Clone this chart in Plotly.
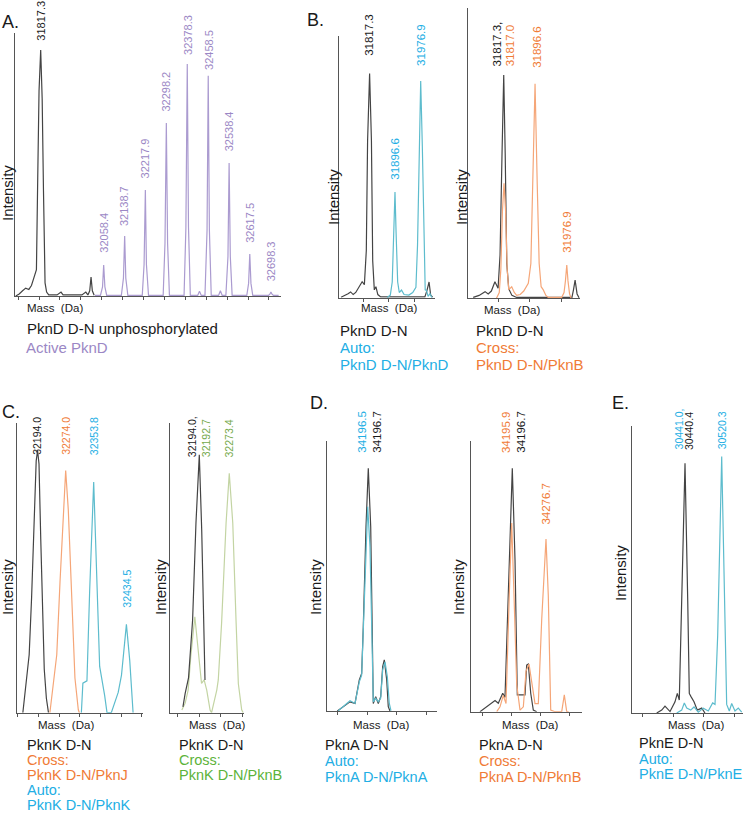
import plotly.graph_objects as go

W, H = 745, 819
FONT = "Liberation Sans, Arial, sans-serif"

INK = "#1a1a1a"
AXIS = "#555555"
GREY_LINE = "#444444"
PURPLE = "#9b87c5"
PURPLE_LINE = "#ab9bd0"
BLUE = "#22aee4"
BLUE_LINE = "#5dbccd"
ORANGE = "#f07b36"
ORANGE_LINE = "#f5a678"
GREEN = "#5cb33a"
GREEN_LABEL = "#74a84a"
GREEN_LINE = "#c3d4a3"

# ---------------- spectra (mass in Da, intensity in % of panel height) ----------------
# A. unphosphorylated PknD D-N vs active PknD
a_black_mass = [31722, 31735, 31748, 31760, 31772, 31782, 31790, 31796, 31801, 31806, 31811, 31817.3,
                31823, 31828, 31831, 31834, 31840, 31848, 31880, 31895, 31903, 31975, 31990, 31998,
                32005, 32010, 32015, 32022]
a_black_int = [0, 0.8, 2, 3, 2.5, 4, 6.5, 8, 10, 45, 78, 93.5,
               75, 40, 8, 5, 1.5, 0.4, 0.4, 1.5, 0.4, 0.4, 1.5, 0.4,
               2, 7.2, 2, 0.3]
a_purple_mass = [32025, 32046, 32054, 32058.4, 32063, 32070,
                 32126, 32134, 32138.7, 32143, 32151,
                 32206, 32213, 32217.9, 32222, 32230,
                 32286, 32293, 32298.2, 32303, 32310,
                 32366, 32373, 32378.3, 32383, 32390,
                 32418, 32425, 32432,
                 32446, 32454, 32458.5, 32463, 32470,
                 32498, 32505, 32512,
                 32526, 32534, 32538.4, 32543, 32550,
                 32606, 32613, 32617.5, 32622, 32629,
                 32689, 32695, 32698.3, 32702, 32708, 32728]
a_purple_int = [0.2, 0.2, 3.5, 11.8, 3.5, 0.2,
                0.2, 6.8, 22.8, 6.8, 0.2,
                0.2, 12, 40.3, 12, 0.2,
                0.2, 20, 65.8, 20, 0.2,
                0.2, 26, 88.2, 26, 0.2,
                0.2, 1.8, 0.2,
                0.2, 25, 83.7, 25, 0.2,
                0.2, 2, 0.2,
                0.2, 15, 50.6, 15, 0.2,
                0.2, 4.8, 16, 4.8, 0.2,
                0.2, 0.8, 1.5, 0.8, 0.2, 0.2]

# B. PknD D-N auto / cross
b1_black_mass = [31728, 31740, 31750, 31758, 31766, 31774, 31784, 31794, 31801, 31807, 31811, 31817.3,
                 31823, 31827, 31832, 31837, 31843, 31852, 31900, 31990, 31997, 32003, 32008, 32014]
b1_black_int = [0.2, 0.8, 1.5, 2.2, 1.2, 2, 4, 6.1, 5, 18, 60, 85.7,
                60, 14, 3, 4.2, 1.2, 0.3, 0.3, 0.3, 3, 6, 1, 0.2]
b1_blue_mass = [31872, 31882, 31888, 31893, 31896.6, 31900, 31905, 31910, 31917, 31925, 31940, 31952,
                31962, 31967, 31972, 31976.9, 31982, 31987, 31991, 31995, 32000, 32006, 32012]
b1_blue_int = [0, 1, 6, 25, 40.4, 25, 6, 2, 2.9, 1.2, 1, 2,
               4, 20, 58, 82.8, 58, 18, 3, 2.8, 0.5, 1.5, 0]
b2_black_mass = [31740, 31755, 31770, 31778, 31786, 31795, 31803, 31808, 31813, 31817.3, 31821, 31825,
                 31830, 31838, 31850, 31990, 31994, 31998, 32003, 32008]
b2_black_int = [0.3, 1, 2.3, 1.5, 2.5, 5.7, 3.5, 15, 50, 77, 50, 12,
                3.3, 1, 0.3, 0.3, 3, 6.3, 1.5, 0.2]
b2_orange_mass = [31799, 31806, 31810, 31814, 31818, 31822, 31826, 31830, 31837.5, 31844, 31850, 31859,
                  31868, 31879.5, 31886, 31891, 31896.6, 31902, 31907, 31912, 31917.5, 31924, 31930,
                  31964, 31970, 31973.5, 31976.9, 31980, 31984, 31988]
b2_orange_int = [0, 2, 10, 30, 39.7, 30, 10, 3, 4, 2, 1, 1.3,
                 2.5, 5.2, 12, 40, 74, 40, 12, 4, 2.9, 1, 0.3,
                 0.3, 2, 6, 11.5, 6, 1.5, 0]

# C. PknK D-N
c1_black_mass = [32152, 32162, 32170, 32177, 32184, 32190, 32194, 32198, 32203, 32208, 32213, 32219, 32225]
c1_black_int = [0, 10, 20, 40, 65, 87, 90.6, 86, 60, 35, 15, 5, 0]
c1_orange_mass = [32229, 32239, 32248.6, 32257.8, 32267, 32274, 32281.5, 32291, 32300.4, 32310, 32313]
c1_orange_int = [0, 11, 20, 45, 70, 83.7, 70, 40, 12, 1, 0]
c1_blue_mass = [32318.7, 32323, 32334.6, 32342.3, 32353.8, 32361.4, 32370.8, 32385, 32391.7, 32404,
                32414, 32423.6, 32433, 32440, 32447, 32456.5, 32466]
c1_blue_int = [0, 10.2, 11, 42, 79.7, 52, 16, 6, 0, 0,
               4, 7, 13, 22, 30.5, 18, 0]
c2_green_mass = [32147, 32156, 32164, 32171, 32182, 32191, 32200, 32207, 32214, 32223, 32227,
                 32241, 32245, 32254, 32266, 32274.6, 32284, 32293, 32299, 32308, 32312]
c2_green_int = [0.9, 3.3, 7.8, 19.3, 33.1, 21.6, 10.1, 11.3, 7.8, 0.9, 0,
                7.8, 11.3, 31, 65.5, 82.6, 65.5, 31, 10, 1, 0]
c2_black_mass = [32150, 32156, 32165, 32176, 32185, 32194, 32200.5, 32205, 32209.3]
c2_black_int = [2, 6.7, 12, 32, 65.5, 89, 63, 31, 11.3]

# D. PknA D-N
d1_black_mass = [34123.6, 34137.7, 34153.5, 34165.3, 34175.4, 34181, 34184.8, 34191.2, 34196.6, 34202.3,
                 34206, 34208.4, 34214, 34220.2, 34225.8, 34230.5, 34234.3, 34240, 34243.7, 34247.7]
d1_black_int = [0, 1.6, 3.4, 2.8, 11.5, 13.9, 31.2, 68.2, 89.8, 68.2,
                18.9, 2.8, 5.3, 2.8, 5.3, 16.4, 18.9, 11.5, 1.6, 0]
d1_blue_mass = [34125.9, 34137.7, 34153.5, 34165.3, 34175.4, 34181, 34184.8, 34191.2, 34195.2, 34200.6,
                34205.3, 34208.4, 34214, 34220.2, 34225.8, 34230.5, 34236, 34241.4, 34246.1, 34250]
d1_blue_int = [0.1, 1.8, 3.8, 2.8, 10.8, 13.3, 28.7, 60.8, 75.6, 60.8,
               18.9, 3.4, 4.7, 3.4, 4.7, 15.2, 18.2, 12.7, 2.8, 0.1]
d2_black_mass = [34121.2, 34137, 34156.6, 34164.3, 34174.7, 34180.1, 34187.9, 34197.3, 34203.7, 34209.1,
                 34227.2, 34231.2, 34235, 34240.7, 34246.8, 34254.8]
d2_black_int = [0, 1.8, 4.1, 3.1, 6.8, 5.3, 43.7, 89.8, 56, 6.2,
                6.2, 17.2, 17.6, 6.8, 0.6, 0]
d2_orange_mass = [34160.6, 34168.3, 34176.1, 34182.5, 34190.2, 34195.9, 34201.3, 34207.7, 34215.5, 34223.3,
                  34229.6, 34236.7, 34243, 34250.8, 34258.6, 34266.6, 34276.7, 34282.1, 34287.8, 34298,
                  34313.7, 34319.8, 34325.5, 34330]
d2_orange_int = [0, 1.8, 6, 3, 43, 69.6, 43, 10, 0.6, 1.8,
                 15, 17.6, 11, 3, 3, 34, 63.7, 43, 0.6, 0,
                 0, 6.2, 0, 0]

# E. PknE D-N
e_black_mass = [30379.3, 30390.2, 30397.3, 30408.2, 30419, 30424, 30428.3, 30433.5, 30440.7, 30446.6,
                30450, 30453.7, 30460.2, 30467.4, 30477, 30484]
e_black_int = [0, 1, 2.4, 0.5, 3.9, 6.8, 4.5, 39.3, 86.9, 39,
               6.8, 5.7, 3.9, 1, 1.7, 0]
e_blue_mass = [30422.7, 30433.5, 30439.2, 30444.4, 30453.1, 30460.2, 30469.5, 30480.4, 30491.2, 30500.7,
               30505.8, 30511.6, 30520.3, 30525.9, 30531.1, 30536.8, 30542, 30549.1, 30556.3, 30563.7]
e_blue_int = [0, 1, 3.5, 1.7, 1, 2.1, 0.3, 1.7, 0.7, 3.5,
              3, 27, 89.2, 39, 3, 0.7, 3.3, 0.7, 1.7, 0.3]

# ---------------- peak labels: (text, mass, intensity at label bottom) ----------------
a_labels = ["31817.3", "32058.4", "32138.7", "32217.9", "32298.2", "32378.3", "32458.5", "32538.4",
            "32617.5", "32698.3"]
a_label_mass = [31817.3, 32058.4, 32138.7, 32217.9, 32298.2, 32378.3, 32458.5, 32538.4, 32617.5, 32698.3]
a_label_int = [96.2, 15.6, 25.7, 44.1, 69.5, 91, 85.3, 54.3, 19.4, 4.8]
b1_labels = ["31817.3", "31896.6", "31976.9"]
b1_label_mass = [31817.3, 31896.6, 31976.9]
b1_label_int = [91.5, 44.3, 87.7]
b2_labels = ["31817.3,", "31817.0", "31896.6", "31976.9"]
b2_label_mass = [31799.5, 31833.2, 31901, 31976.8]
b2_label_int = [79.3, 79.3, 78.7, 14.9]
c1_labels = ["32194.0", "32274.0", "32353.8", "32434.5"]
c1_label_mass = [32192.3, 32274.9, 32355.5, 32447.8]
c1_label_int = [88.4, 88.4, 88.4, 35.5]
c2_labels = ["32194.0,", "32192.7", "32273.4"]
c2_label_mass = [32172.8, 32212, 32274.6]
c2_label_int = [87.5, 87.5, 87.5]
d1_labels = ["34196.5", "34196.7"]
d1_label_mass = [34181, 34216.4]
d1_label_int = [94.7, 94.7]
d2_labels = ["34195.9", "34196.7", "34276.7"]
d2_label_mass = [34182.5, 34217.1, 34276.7]
d2_label_int = [94.7, 94.7, 68.3]
e_labels = ["30441.0,", "30440.4", "30520.3"]
e_label_mass = [30428.3, 30447.9, 30520.3]
e_label_int = [90.9, 90.9, 90.9]

# ---------------- panel geometry (pixel box left, top, right, bottom), x range, ticks ----------------
panels = [
    ((15, 33, 281, 296), [31719, 32737], 31811, 80),
    ((339, 36, 435, 297.7), [31721.7, 32021.6], 31797.6, 80),
    ((468.3, 8.3, 580, 298.3), [31727.6, 32010.4], 31803, 80),
    ((17.3, 423.3, 142.7, 712.7), [32136.2, 32493.4], 32196, 59),
    ((170, 423, 244, 712.7), [32115.2, 32314.2], 32194, 58),
    ((327.3, 440.7, 437, 711), [34100, 34358.5], 34194, 70),
    ((470.7, 440.7, 581.7, 711.7), [34099.3, 34360.8], 34195.9, 68.5),
    ((632, 425.5, 743, 713), [30325.7, 30566.5], 30415.3, 66),
]

series = [
    (0, a_black_mass, a_black_int, GREY_LINE),
    (0, a_purple_mass, a_purple_int, PURPLE_LINE),
    (1, b1_black_mass, b1_black_int, GREY_LINE),
    (1, b1_blue_mass, b1_blue_int, BLUE_LINE),
    (2, b2_black_mass, b2_black_int, GREY_LINE),
    (2, b2_orange_mass, b2_orange_int, ORANGE_LINE),
    (3, c1_black_mass, c1_black_int, GREY_LINE),
    (3, c1_orange_mass, c1_orange_int, ORANGE_LINE),
    (3, c1_blue_mass, c1_blue_int, BLUE_LINE),
    (4, c2_green_mass, c2_green_int, GREEN_LINE),
    (4, c2_black_mass, c2_black_int, GREY_LINE),
    (5, d1_black_mass, d1_black_int, GREY_LINE),
    (5, d1_blue_mass, d1_blue_int, BLUE_LINE),
    (6, d2_black_mass, d2_black_int, GREY_LINE),
    (6, d2_orange_mass, d2_orange_int, ORANGE_LINE),
    (7, e_black_mass, e_black_int, GREY_LINE),
    (7, e_blue_mass, e_blue_int, BLUE_LINE),
]

peak_labels = [
    (0, a_labels, a_label_mass, a_label_int, [INK] + [PURPLE] * 9, 11),
    (1, b1_labels, b1_label_mass, b1_label_int, [INK, BLUE, BLUE], 11.5),
    (2, b2_labels, b2_label_mass, b2_label_int, [INK, ORANGE, ORANGE, ORANGE], 11.5),
    (3, c1_labels, c1_label_mass, c1_label_int, [INK, ORANGE, BLUE, BLUE], 10.5),
    (4, c2_labels, c2_label_mass, c2_label_int, [INK, GREEN_LABEL, GREEN_LABEL], 10.5),
    (5, d1_labels, d1_label_mass, d1_label_int, [BLUE, INK], 11.5),
    (6, d2_labels, d2_label_mass, d2_label_int, [ORANGE, INK, ORANGE], 11.5),
    (7, e_labels, e_label_mass, e_label_int, [BLUE, INK, BLUE], 10.5),
]

# captions under each panel: (left px, centre-y px, text, colour, size)
captions = [
    (25, 328, "PknD D-N unphosphorylated", INK, 15), (24, 347, "Active PknD", PURPLE, 15),
    (338, 330, "PknD D-N", INK, 15), (338, 347, "Auto:", BLUE, 15), (338, 364, "PknD D-N/PknD", BLUE, 15),
    (474, 330, "PknD D-N", INK, 15), (474, 347, "Cross:", ORANGE, 15), (474, 364, "PknD D-N/PknB", ORANGE, 15),
    (25, 745, "PknK D-N", INK, 14.5), (25, 760, "Cross:", ORANGE, 14.5), (25, 775, "PknK D-N/PknJ", ORANGE, 14.5),
    (25, 790, "Auto:", BLUE, 14.5), (25, 805, "PknK D-N/PknK", BLUE, 14.5),
    (177, 745, "PknK D-N", INK, 14.5), (177, 760, "Cross:", GREEN, 14.5), (177, 775, "PknK D-N/PknB", GREEN, 14.5),
    (323, 745, "PknA D-N", INK, 14.5), (323, 761, "Auto:", BLUE, 14.5), (323, 777, "PknA D-N/PknA", BLUE, 14.5),
    (477, 745, "PknA D-N", INK, 14.5), (477, 761, "Cross:", ORANGE, 14.5), (477, 777, "PknA D-N/PknB", ORANGE, 14.5),
    (637, 743, "PknE D-N", INK, 14.5), (637, 759, "Auto:", BLUE, 14.5), (637, 774, "PknE D-N/PknE", BLUE, 14.5),
]
letters = [(0, 22, "A."), (305, 20, "B."), (0, 412, "C."), (308, 403, "D."), (610, 403, "E.")]
mass_titles = [(55, 308), (389, 308), (512, 310), (66, 725), (217, 725), (381, 725), (530, 725), (696, 725)]
intensity_titles = [(7, 193), (333, 197), (461, 197), (7, 587), (160, 587), (315, 587), (458, 587), (620, 573)]

fig = go.Figure()

for idx, mass, inten, color in series:
    sfx = "" if idx == 0 else str(idx + 1)
    fig.add_trace(go.Scatter(x=mass, y=inten, mode="lines", xaxis="x" + sfx, yaxis="y" + sfx,
                             line=dict(color=color, width=1.2), hoverinfo="skip", showlegend=False))

layout = dict(width=W, height=H, margin=dict(l=0, r=0, t=0, b=0), paper_bgcolor="white",
              plot_bgcolor="white", showlegend=False, font=dict(family=FONT, color=INK))
for i, (box, xr, t0, dt) in enumerate(panels):
    l, t, r, b = box
    sfx = "" if i == 0 else str(i + 1)
    layout["xaxis" + sfx] = dict(domain=[l / W, r / W], range=xr, anchor="y" + sfx, showline=True,
                                 linecolor=AXIS, linewidth=1.3, ticks="outside", ticklen=3, tickwidth=1,
                                 tickcolor=AXIS, tick0=t0, dtick=dt, showticklabels=False,
                                 showgrid=False, zeroline=False, fixedrange=True)
    layout["yaxis" + sfx] = dict(domain=[1 - b / H, 1 - t / H], range=[0, 100], anchor="x" + sfx,
                                 showline=True, linecolor=AXIS, linewidth=1.3, ticks="",
                                 showticklabels=False, showgrid=False, zeroline=False, fixedrange=True)
fig.update_layout(**layout)

for idx, texts, masses, ints, colors, size in peak_labels:
    sfx = "" if idx == 0 else str(idx + 1)
    for txt, m, v, c in zip(texts, masses, ints, colors):
        fig.add_annotation(x=m, y=v, xref="x" + sfx, yref="y" + sfx, text=txt, textangle=-90,
                           showarrow=False, xanchor="center", yanchor="bottom",
                           font=dict(size=size, color=c, family=FONT))

for x, y, txt, c, size in captions:
    fig.add_annotation(x=x / W, y=1 - y / H, xref="paper", yref="paper", text=txt, showarrow=False,
                       xanchor="left", yanchor="middle", font=dict(size=size, color=c, family=FONT))
for x, y, txt in letters:
    fig.add_annotation(x=x / W, y=1 - y / H, xref="paper", yref="paper", text=txt, showarrow=False,
                       xanchor="left", yanchor="middle", font=dict(size=18, color=INK, family=FONT))
for x, y in mass_titles:
    fig.add_annotation(x=x / W, y=1 - y / H, xref="paper", yref="paper", text="Mass\u00a0\u00a0(Da)",
                       showarrow=False, xanchor="center", yanchor="middle",
                       font=dict(size=11.5, color=INK, family=FONT))
for x, y in intensity_titles:
    fig.add_annotation(x=x / W, y=1 - y / H, xref="paper", yref="paper", text="Intensity", textangle=-90,
                       showarrow=False, xanchor="center", yanchor="middle",
                       font=dict(size=15, color=INK, family=FONT))

# the page's default body margin would shift the fixed-size figure by 8 px
fig.write_html("out.html", config={"displayModeBar": False},
               post_script="document.body.style.margin='0';")
